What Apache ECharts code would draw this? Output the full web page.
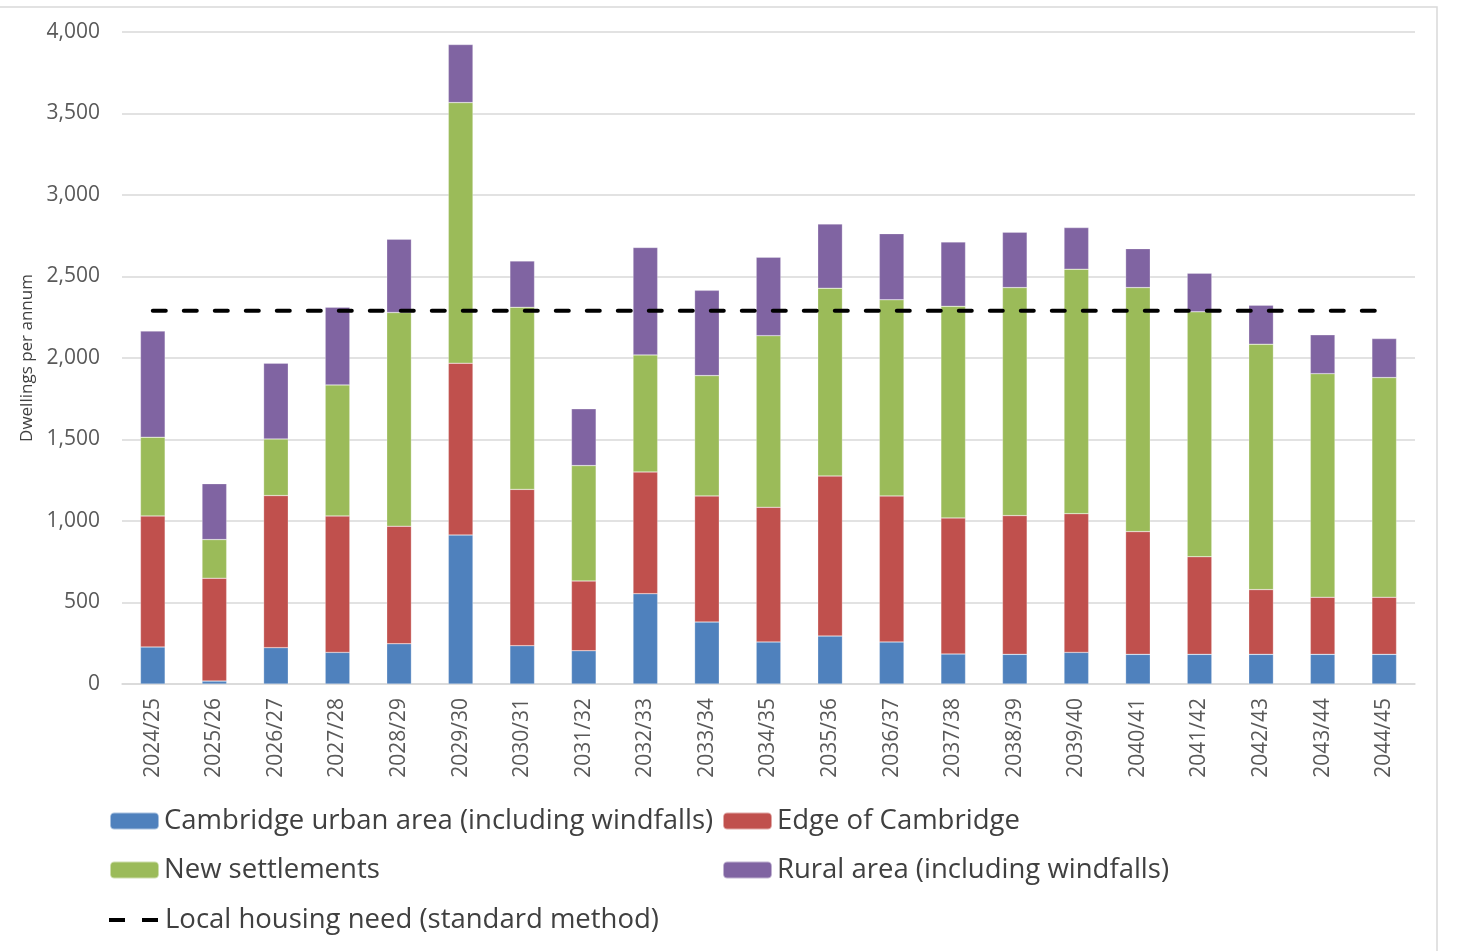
<!DOCTYPE html>
<html>
<head>
<meta charset="utf-8">
<title>Dwellings per annum</title>
<script src="https://cdn.jsdelivr.net/npm/echarts@6/dist/echarts.min.js"></script>
<style>
  html, body { margin: 0; padding: 0; background: #fff; }
  #chart { width: 1472px; height: 951px; }
</style>
</head>
<body>
<div id="chart"></div>
<script>
// data
const years = ['2024/25', '2025/26', '2026/27', '2027/28', '2028/29', '2029/30', '2030/31',
  '2031/32', '2032/33', '2033/34', '2034/35', '2035/36', '2036/37', '2037/38', '2038/39',
  '2039/40', '2040/41', '2041/42', '2042/43', '2043/44', '2044/45']
const cambridgeUrban = [227, 18, 223, 194, 247, 914, 235, 204, 554, 380, 258, 294, 258, 184, 182, 194, 182, 182, 182, 182, 182]
const edgeOfCambridge = [804, 631, 933, 837, 721, 1054, 959, 428, 747, 774, 826, 982, 896, 835, 851, 851, 753, 599, 397, 350, 350]
const newSettlements = [483, 237, 347, 804, 1311, 1599, 1117, 708, 718, 738, 1053, 1152, 1203, 1298, 1399, 1500, 1497, 1502, 1506, 1372, 1348]
const ruralArea = [651, 343, 465, 476, 450, 356, 284, 348, 659, 523, 481, 394, 406, 395, 340, 255, 239, 237, 239, 238, 239]
const housingNeed = years.map(() => 2290) // flat standard-method figure
const yTicks = { min: 0, max: 4000, interval: 500 }

const names = [
  'Cambridge urban area (including windfalls)',
  'Edge of Cambridge',
  'New settlements',
  'Rural area (including windfalls)',
  'Local housing need (standard method)'
]
const colors = ['#4f81bd', '#c0504d', '#9bbb59', '#8064a2']
const stacks = [cambridgeUrban, edgeOfCambridge, newSettlements, ruralArea]

const font = '"Open Sans", "Noto Sans", sans-serif'
const legendText = { fontFamily: font, fontSize: 27.5, color: '#404040' }

// one legend per item so the two-column layout matches
const legendPos = [
  { left: 109, top: 807 }, { left: 722, top: 807 },
  { left: 109, top: 856 }, { left: 722, top: 856 },
  { left: 109, top: 906 }
]
const legends = names.map((n, i) => {
  const isLine = i === 4
  return {
    data: isLine ? [{ name: n, icon: 'path://M0,0h16v4h-16zM33,0h16v4h-16z' }] : [n],
    left: legendPos[i].left,
    top: legendPos[i].top,
    itemWidth: 49,
    itemHeight: isLine ? 4 : 17,
    itemGap: 0,
    padding: 0,
    textStyle: isLine ? Object.assign({ padding: [0, 0, 0, 2] }, legendText) : legendText,
    selectedMode: false
  }
})

const chart = echarts.init(document.getElementById('chart'))
chart.setOption({
  animation: false,
  backgroundColor: '#fff',
  textStyle: { fontFamily: font },
  graphic: [{
    type: 'rect',
    shape: { x: -5, y: 7, width: 1442, height: 960 },
    style: { fill: 'none', stroke: '#d9d9d9', lineWidth: 1.5 },
    silent: true
  }],
  legend: legends,
  grid: { left: 122, right: 57, top: 32, bottom: 267 },
  xAxis: {
    type: 'category',
    data: years,
    axisLine: { lineStyle: { color: '#d9d9d9', width: 1.5 } },
    axisTick: { show: false },
    axisLabel: { rotate: 90, margin: 14, fontSize: 21, color: '#595959', fontFamily: font }
  },
  yAxis: {
    type: 'value',
    min: yTicks.min,
    max: yTicks.max,
    interval: yTicks.interval,
    name: 'Dwellings per annum',
    nameLocation: 'middle',
    nameGap: 84,
    nameTextStyle: { fontSize: 17, color: '#404040', fontFamily: font },
    axisLine: { show: false },
    axisTick: { show: false },
    axisLabel: {
      margin: 22,
      fontSize: 21,
      color: '#595959',
      fontFamily: font,
      formatter: v => v.toLocaleString('en-GB')
    },
    splitLine: { lineStyle: { color: '#d9d9d9', width: 1.5 } }
  },
  series: stacks.map((d, i) => ({
    name: names[i],
    type: 'bar',
    stack: 'total',
    data: d,
    barWidth: '40%',
    itemStyle: { color: colors[i], borderColor: 'rgba(255,255,255,0.5)', borderWidth: 0.5 }
  })).concat([{
    name: names[4],
    type: 'line',
    data: housingNeed,
    symbol: 'none',
    z: 5,
    lineStyle: { color: '#000', width: 4, type: [13, 18], cap: 'round' },
    itemStyle: { color: '#000' }
  }])
})
</script>
</body>
</html>
